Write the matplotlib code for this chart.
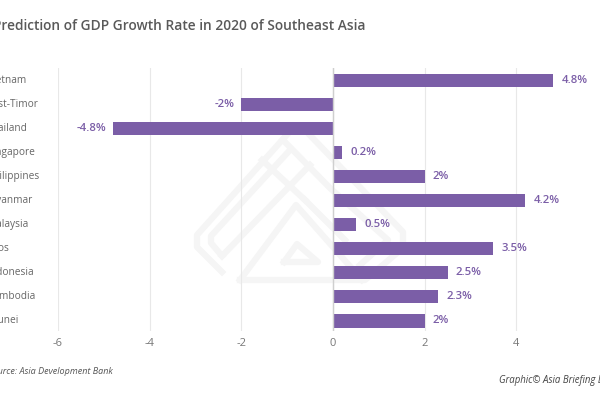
import matplotlib
matplotlib.use('Agg')
import matplotlib.pyplot as plt
from matplotlib.lines import Line2D

countries = ['Vietnam', 'East-Timor', 'Thailand', 'Singapore', 'Philippines', 'Myanmar',
             'Malaysia', 'Laos', 'Indonesia', 'Cambodia', 'Brunei']
growth = [4.8, -2, -4.8, 0.2, 2, 4.2, 0.5, 3.5, 2.5, 2.3, 2]
labels = ['4.8%', '-2%', '-4.8%', '0.2%', '2%', '4.2%', '0.5%', '3.5%', '2.5%', '2.3%', '2%']
xticks = [-6, -4, -2, 0, 2, 4, 6]

# rough strokes of the background logo, in picture pixels
logo = [
    [(222, 272), (197, 247), (197, 235), (293, 128), (303, 128), (403, 232), (403, 248), (365, 280), (240, 280)],
    [(222, 256), (211, 243), (211, 236), (290, 150)],
    [(222, 256), (310, 165)],
    [(240, 280), (296, 205), (362, 280)],
    [(284, 262), (297, 244), (318, 262), (284, 262)],
    [(262, 160), (305, 200)],
    [(283, 140), (330, 188), (388, 240), (360, 265)],
    [(305, 200), (345, 240)],
]

purple = '#7b5ea7'
plt.rcParams['font.family'] = 'Open Sans'
plt.rcParams['axes.unicode_minus'] = False

fig = plt.figure(figsize=(6, 4), dpi=100)
# axes run past the right edge, the reference is cropped there
ax = fig.add_axes([58 / 600, 1 - 331 / 400, 550 / 600, 263 / 400])
ax.patch.set_visible(False)

for stroke in logo:
    xs = [p[0] / 600 for p in stroke]
    ys = [1 - p[1] / 400 for p in stroke]
    fig.add_artist(Line2D(xs, ys, transform=fig.transFigure, color='#f5f5f5', linewidth=4.5, zorder=-1,
                          solid_joinstyle='round'))

ypos = list(range(len(countries)))
ax.barh(ypos, growth, height=0.55, color=purple, zorder=3)

for y, v, t in zip(ypos, growth, labels):
    if v < 0:
        ax.annotate(t, (v, y), xytext=(-5, 0), textcoords='offset points', ha='right', va='center',
                    color=purple, fontsize=8.2, fontweight='semibold')
    else:
        ax.annotate(t, (v, y), xytext=(6, 0), textcoords='offset points', ha='left', va='center',
                    color=purple, fontsize=8.2, fontweight='semibold')

ax.set_xlim(-6, 6)
ax.set_ylim(10.42, -0.52)
ax.set_xticks(xticks)
ax.set_yticks(ypos)
ax.set_yticklabels(countries, ha='left', va='center')
ax.tick_params(axis='y', length=0, pad=51, labelsize=7.3, labelcolor='#666666')
ax.tick_params(axis='x', length=0, pad=5, labelsize=8, labelcolor='#777777')
ax.grid(axis='x', color='#e8e8e8', linewidth=0.8, zorder=0)
ax.axvline(0, color='#cfcfcf', linewidth=1, zorder=4)
for s in ax.spines.values():
    s.set_visible(False)

fig.text(-7 / 600, 1 - 26 / 400, 'Prediction of GDP Growth Rate in 2020 of Southeast Asia', fontsize=9.9,
         fontweight='semibold', color='#595959', va='center', ha='left')
fig.text(-12 / 600, 1 - 371 / 400, 'Source: Asia Development Bank', fontsize=6.5, style='italic', color='#555555',
         va='center', ha='left')
fig.text(499 / 600, 1 - 381 / 400, 'Graphic© Asia Briefing Ltd.', fontsize=6.9, style='italic', color='#444444',
         va='center', ha='left')

fig.savefig('out.png', dpi=100)
